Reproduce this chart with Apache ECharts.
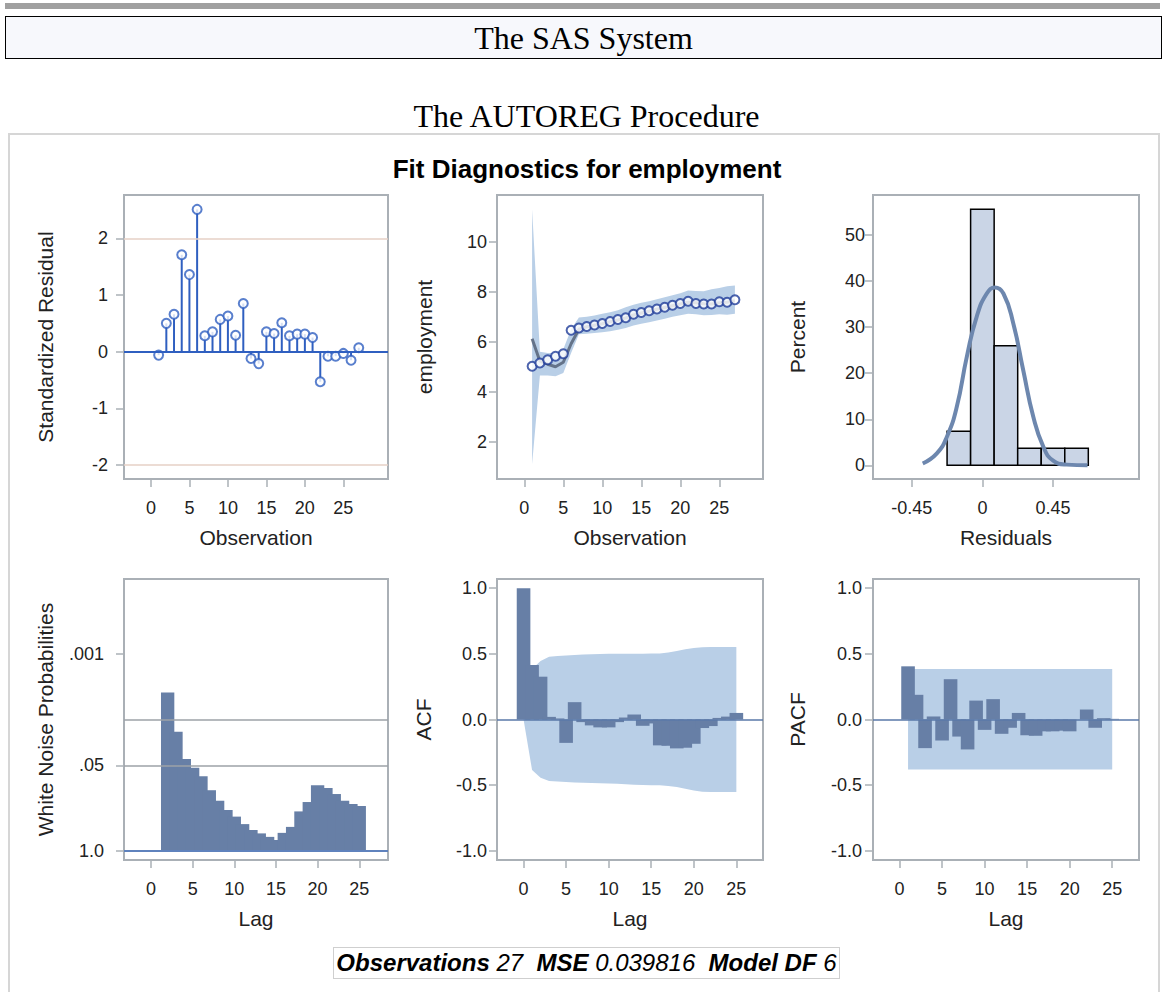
<!DOCTYPE html>
<html><head><meta charset="utf-8">
<script src="https://cdn.jsdelivr.net/npm/echarts@6/dist/echarts.min.js"></script>
<style>
html,body{margin:0;padding:0;background:#fff;width:1165px;height:992px;overflow:hidden;}
#topbar{position:absolute;left:5px;top:3px;width:1155px;height:6px;background:#a0a0a0;}
#sasbox{position:absolute;left:5px;top:16px;width:1155px;height:41px;border:1px solid #000;background:#f7f8fc;
  font-family:"Liberation Serif","Times New Roman",serif;font-size:32px;line-height:42px;text-align:center;color:#000;}
#proc{position:absolute;left:0;top:97px;width:1173px;text-align:center;font-family:"Liberation Serif","Times New Roman",serif;font-size:32px;line-height:38px;color:#000;}
#frame{position:absolute;left:8px;top:133px;width:1148px;height:900px;border:2px solid #d6d6d6;}
#chart{position:absolute;left:0;top:0;width:1165px;height:992px;}
#foot{position:absolute;left:333px;top:947px;width:505px;height:30px;border:1px solid #cfcfcf;background:#fff;
  font-family:"Liberation Sans",Arial,sans-serif;font-size:24px;line-height:30px;text-align:center;white-space:nowrap;color:#000;}
</style></head>
<body>
<div id="topbar"></div>
<div id="sasbox">The SAS System</div>
<div id="proc">The AUTOREG Procedure</div>
<div id="frame"></div>
<div id="chart"></div>
<div id="foot"><b><i>Observations</i></b> <i>27</i>&nbsp; <b><i>MSE</i></b> <i>0.039816</i>&nbsp; <b><i>Model DF</i></b> <i>6</i></div>
<script>
// ---------------- DATA ----------------
const observation = [1,2,3,4,5,6,7,8,9,10,11,12,13,14,15,16,17,18,19,20,21,22,23,24,25,26,27];
const stdResidual = [-0.06,0.50,0.66,1.71,1.36,2.51,0.28,0.35,0.57,0.63,0.29,0.85,-0.12,-0.21,0.35,0.32,0.51,0.28,0.31,0.31,0.25,-0.53,-0.08,-0.08,-0.03,-0.15,0.07];
const employment = [5.02,5.15,5.28,5.42,5.52,6.46,6.55,6.61,6.67,6.73,6.81,6.89,6.96,7.10,7.17,7.24,7.31,7.38,7.46,7.53,7.62,7.53,7.51,7.51,7.60,7.58,7.68];
const predicted  = [6.12,5.22,5.10,5.00,5.18,5.92,6.50,6.60,6.66,6.72,6.80,6.87,6.95,7.07,7.15,7.22,7.30,7.37,7.44,7.51,7.58,7.56,7.52,7.51,7.56,7.58,7.64];
const lowerCL = [1.10,4.65,4.65,4.62,4.75,5.55,6.30,6.32,6.35,6.38,6.42,6.48,6.55,6.65,6.72,6.78,6.85,6.92,7.00,7.06,7.12,7.10,7.06,7.07,7.10,7.08,7.12];
const upperCL = [11.30,5.60,5.55,5.55,5.70,6.50,6.97,7.00,7.05,7.12,7.18,7.26,7.38,7.48,7.56,7.62,7.70,7.78,7.86,7.94,8.05,8.03,8.02,8.10,8.15,8.22,8.25];
const residBinEdges = [-0.225,-0.075,0.075,0.225,0.375,0.525,0.675];
const residPercent  = [7.41,55.56,25.93,3.70,3.70,3.70];
const normalX = [-0.38,-0.29,-0.226,-0.163,-0.099,-0.036,0.028,0.08,0.134,0.197,0.26,0.324,0.388,0.451,0.537,0.67];
const normalY = [0.4,2.6,6.2,12.7,23.6,32.3,37.3,38.6,37.3,30.8,20.7,10.6,4.05,1.0,0.15,0.0];
const wnLag  = [1,2,3,4,5,6,7,8,9,10,11,12,13,14,15,16,17,18,19,20,21,22,23,24,25];
const wnProb = [null,0.0039,0.0154,0.040,0.054,0.073,0.119,0.172,0.238,0.30,0.39,0.48,0.54,0.61,0.68,0.53,0.43,0.25,0.18,0.10,0.11,0.136,0.172,0.193,0.207];
const wnRefProb = [0.01,0.05];
const acfLag = [0,1,2,3,4,5,6,7,8,9,10,11,12,13,14,15,16,17,18,19,20,21,22,23,24,25];
const acf = [1.0,0.415,0.326,0.02,0.008,-0.178,0.132,-0.02,-0.045,-0.06,-0.06,-0.02,0.015,0.038,-0.048,-0.03,-0.197,-0.20,-0.22,-0.215,-0.185,-0.065,-0.05,0.012,0.022,0.05];
const acfUpper = [0,0.385,0.445,0.478,0.484,0.487,0.492,0.495,0.497,0.499,0.5,0.5,0.5,0.5,0.501,0.502,0.503,0.51,0.522,0.535,0.545,0.55,0.552,0.553,0.553,0.553];
const acfLower = [0,-0.385,-0.443,-0.468,-0.473,-0.476,-0.48,-0.482,-0.484,-0.486,-0.488,-0.49,-0.493,-0.496,-0.498,-0.5,-0.501,-0.507,-0.515,-0.527,-0.54,-0.55,-0.552,-0.553,-0.553,-0.553];
const pacfLag = [1,2,3,4,5,6,7,8,9,10,11,12,13,14,15,16,17,18,19,20,21,22,23,24,25];
const pacf = [0.405,0.188,-0.218,0.023,-0.16,0.307,-0.13,-0.228,0.144,-0.079,0.155,-0.109,-0.063,0.05,-0.12,-0.124,-0.09,-0.09,-0.085,-0.09,0.0,0.076,-0.063,0.01,0.005];
const pacfUpper = [0.385,0.385,0.385,0.385,0.385,0.385,0.385,0.385,0.385,0.385,0.385,0.385,0.385,0.385,0.385,0.385,0.385,0.385,0.385,0.385,0.385,0.385,0.385,0.385,0.385];
const pacfLower = [-0.38,-0.38,-0.38,-0.38,-0.38,-0.38,-0.38,-0.38,-0.38,-0.38,-0.38,-0.38,-0.38,-0.38,-0.38,-0.38,-0.38,-0.38,-0.38,-0.38,-0.38,-0.38,-0.38,-0.38,-0.38];
const obsTicks = [0,5,10,15,20,25];
const lagTicks = [0,5,10,15,20,25];
const residTicks = [-2,-1,0,1,2];
const residRef = [-2,2];
const empTicks = [2,4,6,8,10];
const pctTicks = [0,10,20,30,40,50];
const residXTicks = [-0.45,0,0.45];
const wnTicks = [1,0.05,0.001];
const wnTickLabels = ['1.0','.05','.001'];
const corrTicks = [-1,-0.5,0,0.5,1];

// ---------------- STYLE ----------------
const FONT = "'Liberation Sans', Arial, Helvetica, sans-serif";
const FRAME = '#aab0b6';
const TXT = '#222';
const BLUE = '#2f5fc0';
const BAR = '#677fa6';
const BAND = '#b9cfe7';
const HW = 0.8;

const chart = echarts.init(document.getElementById('chart'), null, {renderer:'svg'});

const gridBox = [
  {left:124, top:195, width:264, height:284},
  {left:497, top:195, width:266, height:284},
  {left:873, top:195, width:266, height:284},
  {left:124, top:579, width:264, height:281},
  {left:497, top:579, width:266, height:281},
  {left:873, top:579, width:266, height:281}
];
const grids = gridBox.map(g => Object.assign({show:true, borderColor:FRAME, borderWidth:2, backgroundColor:'rgba(0,0,0,0)'}, g));

function xAx(gi, min, max, ticks, name, fmt) {
  return {type:'value', gridIndex:gi, min:min, max:max, name:name, nameLocation:'middle', nameGap:48,
    nameTextStyle:{fontFamily:FONT, fontSize:21, color:TXT},
    axisLine:{show:false, onZero:false}, splitLine:{show:false},
    axisTick:{show:true, customValues:ticks, length:8, lineStyle:{color:FRAME, width:1.5}},
    axisLabel:{show:true, customValues:ticks, margin:20, fontFamily:FONT, fontSize:18, color:TXT,
      formatter: fmt || (v => String(v))}};
}
function yAx(gi, min, max, ticks, name, gap, margin, fmt, extra) {
  return Object.assign({type:'value', gridIndex:gi, min:min, max:max, name:name, nameLocation:'middle', nameGap:gap,
    nameTextStyle:{fontFamily:FONT, fontSize:21, color:TXT},
    axisLine:{show:false, onZero:false}, splitLine:{show:false},
    axisTick:{show:true, customValues:ticks, length:8, lineStyle:{color:FRAME, width:1.5}},
    axisLabel:{show:true, customValues:ticks, margin:margin, fontFamily:FONT, fontSize:18, color:TXT,
      formatter: fmt || (v => String(v))}}, extra || {});
}
const corrFmt = v => (Math.abs(v) < 1e-9 ? 0 : v).toFixed(1);
const wnFmt = v => { let best = 0; wnTicks.forEach((t,i) => { if (Math.abs(Math.log(t) - Math.log(v)) < Math.abs(Math.log(wnTicks[best]) - Math.log(v))) best = i; }); return wnTickLabels[best]; };

function hline(val, color, width) {
  return {yAxis: val, lineStyle:{color:color, width:width, type:'solid'}};
}
function markLines(list) {
  return {silent:true, symbol:['none','none'], label:{show:false}, animation:false, data:list};
}

function bandSeries(gi, xs, lo, hi, color) {
  return {type:'custom', xAxisIndex:gi, yAxisIndex:gi, silent:true, z:1,
    data:[[xs[0], lo[0]]],
    renderItem:(params, api) => {
      const pts = [];
      for (let i = 0; i < xs.length; i++) pts.push(api.coord([xs[i], hi[i]]));
      for (let i = xs.length - 1; i >= 0; i--) pts.push(api.coord([xs[i], lo[i]]));
      return {type:'polygon', shape:{points:pts}, style:{fill:color}};
    }};
}
function corrBars(gi, lags, vals, extraMark) {
  return {type:'custom', xAxisIndex:gi, yAxisIndex:gi, silent:true, z:3,
    data: lags.map((l,i) => [l, vals[i]]),
    renderItem:(params, api) => {
      const l = api.value(0), v = api.value(1);
      if (isNaN(v)) return null;
      const a = api.coord([l - HW, v]), b = api.coord([l + HW, 0]);
      return {type:'rect', shape:{x:a[0], y:Math.min(a[1], b[1]), width:b[0]-a[0], height:Math.abs(b[1]-a[1])},
        style:{fill:BAR}};
    },
    markLine: extraMark};
}

const series = [
  // Panel 1: standardized residuals
  {type:'custom', xAxisIndex:0, yAxisIndex:0, silent:true, z:3,
    data: observation.map((o,i) => [o, stdResidual[i]]),
    renderItem:(params, api) => {
      const p0 = api.coord([api.value(0), 0]), p1 = api.coord([api.value(0), api.value(1)]);
      return {type:'line', shape:{x1:p0[0], y1:p0[1], x2:p1[0], y2:p1[1]}, style:{stroke:BLUE, lineWidth:2}};
    },
    markLine: markLines(residRef.map(r => hline(r, '#e6d0c6', 1.5)))},
  {type:'scatter', xAxisIndex:0, yAxisIndex:0, silent:true, z:4,
    data: observation.map((o,i) => [o, stdResidual[i]]),
    symbol:'emptyCircle', symbolSize:9, itemStyle:{color:BLUE, borderColor:BLUE, borderWidth:2},
    markLine: markLines([hline(0, BLUE, 2)])},

  // Panel 2: fit
  bandSeries(1, observation, lowerCL, upperCL, BAND),
  {type:'line', xAxisIndex:1, yAxisIndex:1, silent:true, z:3, symbol:'none',
    data: observation.map((o,i) => [o, predicted[i]]),
    lineStyle:{color:'#4f5b72', width:3, opacity:0.8}},
  {type:'scatter', xAxisIndex:1, yAxisIndex:1, silent:true, z:4,
    data: observation.map((o,i) => [o, employment[i]]),
    symbol:'emptyCircle', symbolSize:9, itemStyle:{color:'#1f3c98', borderColor:'#1f3c98', borderWidth:2}},

  // Panel 3: histogram
  {type:'custom', xAxisIndex:2, yAxisIndex:2, silent:true, z:2,
    data: residPercent.map((p,i) => [residBinEdges[i], residBinEdges[i+1], p]),
    encode:{x:[0,1], y:2},
    renderItem:(params, api) => {
      const a = api.coord([api.value(0), api.value(2)]), b = api.coord([api.value(1), 0]);
      return {type:'rect', shape:{x:a[0], y:a[1], width:b[0]-a[0], height:b[1]-a[1]},
        style:{fill:'#cad5e6', stroke:'#000', lineWidth:1.5}};
    }},
  {type:'line', xAxisIndex:2, yAxisIndex:2, silent:true, z:4, symbol:'none', smooth:0.5,
    data: normalX.map((x,i) => [x, normalY[i]]),
    lineStyle:{color:'#6d87ae', width:4}},

  // Panel 4: white noise
  {type:'custom', xAxisIndex:3, yAxisIndex:3, silent:true, z:3,
    data: wnLag.map((l,i) => [l, wnProb[i]]),
    renderItem:(params, api) => {
      const l = api.value(0), p = api.value(1);
      if (isNaN(p)) return null;
      const a = api.coord([l - HW, p]), b = api.coord([l + HW, 1]);
      return {type:'rect', shape:{x:a[0], y:a[1], width:b[0]-a[0], height:b[1]-a[1]}, style:{fill:BAR}};
    },
    markLine: markLines(wnRefProb.map(p => hline(p, '#9da2a7', 1.5)).concat([hline(1, '#5f82bd', 2)]))},

  // Panel 5: ACF
  bandSeries(4, acfLag, acfLower, acfUpper, BAND),
  corrBars(4, acfLag, acf, markLines([hline(0, '#5a78a8', 1.5)])),

  // Panel 6: PACF
  bandSeries(5, pacfLag, pacfLower, pacfUpper, BAND),
  corrBars(5, pacfLag, pacf, markLines([hline(0, '#5a78a8', 1.5)]))
];

const option = {
  animation:false,
  backgroundColor:'rgba(0,0,0,0)',
  textStyle:{fontFamily:FONT},
  graphic:[{type:'text', x:587, y:169, silent:true,
    style:{text:'Fit Diagnostics for employment', fontFamily:FONT, fontSize:26, fontWeight:'bold', fill:'#000',
      textAlign:'center', textVerticalAlign:'middle'}}],
  grid: grids,
  xAxis: [
    xAx(0, -3.5, 30.8, obsTicks, 'Observation'),
    xAx(1, -3.5, 30.6, obsTicks, 'Observation'),
    xAx(2, -0.697, 0.998, residXTicks, 'Residuals'),
    xAx(3, -3.24, 28.45, lagTicks, 'Lag'),
    xAx(4, -3.12, 28.13, lagTicks, 'Lag'),
    xAx(5, -3.12, 28.15, lagTicks, 'Lag')
  ],
  yAxis: [
    yAx(0, -2.245, 2.764, residTicks, 'Standardized Residual', 68, 16),
    yAx(1, 0.508, 11.87, empTicks, 'employment', 62, 10),
    yAx(2, -2.97, 58.68, pctTicks, 'Percent', 65, 8),
    yAx(3, 7.29e-5, 1.371, wnTicks, 'White Noise Probabilities', 68, 20, wnFmt, {type:'log', logBase:10, inverse:true}),
    yAx(4, -1.07, 1.07, corrTicks, 'ACF', 63, 10, corrFmt),
    yAx(5, -1.07, 1.07, corrTicks, 'PACF', 65, 11, corrFmt)
  ],
  series: series
};
chart.setOption(option);
</script>
</body></html>
